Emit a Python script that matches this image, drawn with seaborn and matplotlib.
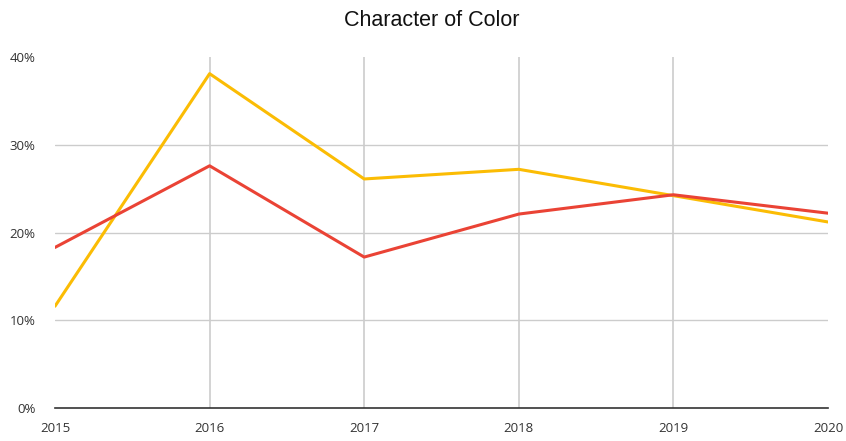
import pandas as pd
import matplotlib
matplotlib.use("Agg")
import matplotlib.pyplot as plt
import seaborn as sns

years = [2015, 2016, 2017, 2018, 2019, 2020]
yellow_vals = [11.6, 38.1, 26.1, 27.2, 24.2, 21.2]
red_vals = [18.3, 27.6, 17.2, 22.1, 24.3, 22.2]
series_names = ["Series A", "Series B"]
y_ticks = [0, 10, 20, 30, 40]

df = pd.DataFrame({
    "year": years * 2,
    "value": yellow_vals + red_vals,
    "series": [series_names[0]] * len(years) + [series_names[1]] * len(years),
})

sns.set_theme(style="white")
plt.rcParams["font.family"] = ["Open Sans", "DejaVu Sans"]

fig = plt.figure(figsize=(8.46, 4.41), dpi=100)
ax = fig.add_axes([55 / 846, 33 / 441, 773 / 846, 351 / 441])

# grid first so lines sit on top
for yv in y_ticks[1:-1]:
    ax.axhline(yv, color="#cccccc", lw=1.0, zorder=0)
for xv in years[1:-1]:
    ax.axvline(xv, color="#cccccc", lw=1.2, zorder=0)

sns.lineplot(data=df, x="year", y="value", hue="series",
             palette=["#fbbc04", "#ea4335"], linewidth=2.2,
             legend=False, ax=ax, zorder=3)

ax.set_xlim(years[0], years[-1])
ax.set_ylim(0, 40)
ax.set_xticks(years)
ax.set_yticks(y_ticks)
ax.set_yticklabels([f"{v}%" for v in y_ticks])
ax.set_xlabel("")
ax.set_ylabel("")
ax.tick_params(axis="both", length=0, labelsize=9.5, labelcolor="#333333")
ax.tick_params(axis="y", pad=14)
ax.tick_params(axis="x", pad=10)

for s in ["top", "right", "left"]:
    ax.spines[s].set_visible(False)
ax.spines["bottom"].set_color("#333333")
ax.spines["bottom"].set_linewidth(1.2)

fig.text(432 / 846, 1 - 20 / 441, "Character of Color", ha="center", va="center",
         fontsize=15.5, color="#111111", family=["Liberation Sans", "DejaVu Sans"])

fig.savefig("out.png", dpi=100)
